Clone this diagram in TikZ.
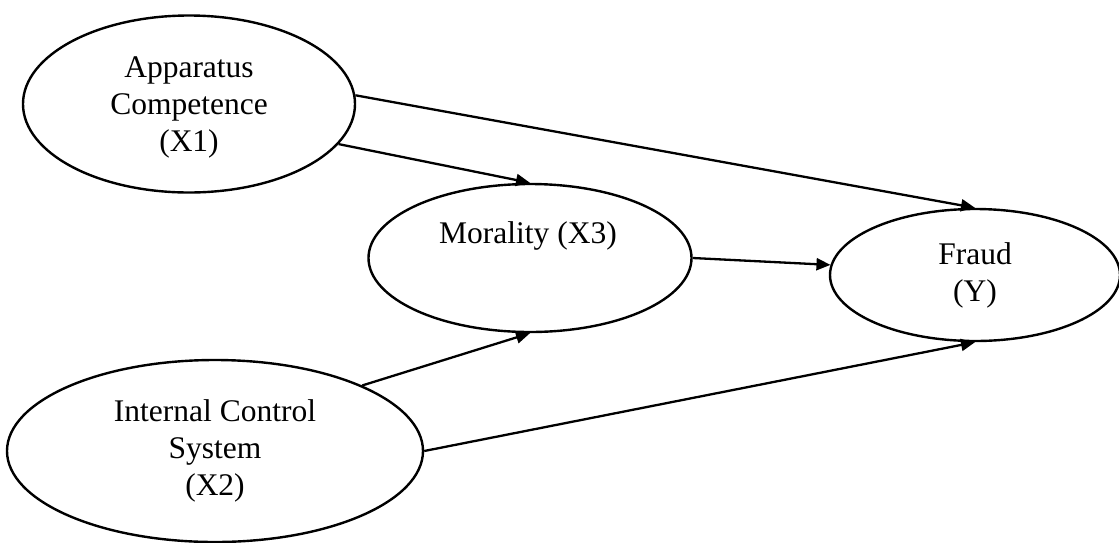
\documentclass[tikz,border=0pt]{standalone}
\usepackage{fontspec}
\setmainfont{Liberation Serif}
\usetikzlibrary{shapes.geometric,arrows.meta}
\begin{document}
\begin{tikzpicture}[x=1pt,y=-1pt,
  var/.style={draw, ellipse, line width=2.4pt, inner sep=0pt, align=center,
    font=\fontsize{31.5}{37}\selectfont},
  lbl/.style={inner sep=0pt, align=center, font=\fontsize{31.5}{37}\selectfont},
  link/.style={-{Triangle[length=14pt,width=12pt]}, line width=2.3pt}]
\useasboundingbox (0,0) rectangle (1119,542);
\node[var, minimum width=332pt, minimum height=177pt] (x1) at (189,104) {};
\node[lbl] (x1t) at (189,107) {Apparatus\\Competence\\(X1)};
\node[var, minimum width=323pt, minimum height=148pt] (x3) at (530,258) {};
\node[lbl] (x3t) at (528,236) {Morality (X3)};
\node[var, minimum width=290pt, minimum height=132pt] (y) at (975,275) {Fraud\\(Y)};
\node[var, minimum width=416pt, minimum height=182pt] (x2) at (215,451) {Internal Control\\System\\(X2)};
\draw[link] (x1.3) -- (y.north);
\draw[link] (x1.-15) -- (x3.north);
\draw[link] (x3.east) -- (y.176);
\draw[link] (x2.24) -- (x3.south);
\draw[link] (x2.east) -- (y.south);
\end{tikzpicture}
\end{document}
